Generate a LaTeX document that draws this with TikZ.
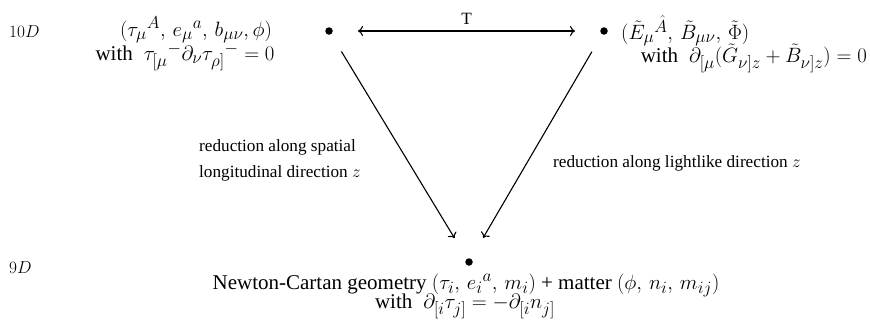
\documentclass[tikz,border=0pt]{standalone}
\usepackage{fontspec}
\setmainfont{Liberation Serif}
\usetikzlibrary{arrows.meta}
\newcommand{\mymath}[1]{{\fontsize{22.8}{25}\selectfont$#1$}}
\begin{document}
\begin{tikzpicture}[x=1pt,y=-1pt,
  every node/.style={font=\fontsize{21}{24}\selectfont, inner sep=0pt},
  dot/.style={circle, fill=black, minimum size=7.5pt, inner sep=0pt},
  dim/.style={font=\fontsize{18}{20}\selectfont},
  conn/.style={line width=1.1pt, -{To[length=5pt,width=10pt]}},
  lbl/.style={font=\fontsize{17.2}{26}\selectfont, align=left}]
\useasboundingbox (0,0) rectangle (870,335);
% dots
\node[dot] (L) at (329,31) {};
\node[dot] (R) at (604,31) {};
\node[dot] (B) at (469,262) {};
% dimension labels
\node[dim, anchor=west] (d10) at (9,32) {$10D$};
\node[dim, anchor=west] (d9) at (9,268) {$9D$};
% left text
\node (lt1) at (196,30) {\mymath{(\tau_\mu{}^A,\, e_\mu{}^a,\, b_{\mu\nu}, \phi)}};
\node (lt2) at (185,57) {with \mymath{\ \tau_{[\mu}{}^{-}\partial_\nu\tau_{\rho]}{}^{-}=0}};
% right text
\node[anchor=west] (rt1) at (621,31) {\mymath{(\tilde E_\mu{}^{\hat A},\, \tilde B_{\mu\nu},\, \tilde\Phi)}};
\node[anchor=east] (rt2) at (867,58) {with \mymath{\ \partial_{[\mu}(\tilde G_{\nu]z}+\tilde B_{\nu]z})=0}};
% bottom text
\node (bt1) at (466,285) {Newton-Cartan geometry \mymath{(\tau_i,\, e_i{}^a,\, m_i)} + matter \mymath{(\phi,\, n_i,\, m_{ij})}};
\node (bt2) at (465,306) {with \mymath{\ \partial_{[i}\tau_{j]}=-\partial_{[i}n_{j]}}};
% connectors
\draw[conn, {To[length=5pt,width=10pt]}-{To[length=5pt,width=10pt]}, shorten <=25pt, shorten >=25pt] (L) -- node[lbl, above=6pt] (T) {T} (R);
\draw[conn, shorten <=20pt, shorten >=24pt] (L) -- (B);
\draw[conn, shorten <=20pt, shorten >=24pt] (R) -- (B);
% reduction labels
\node[lbl, anchor=west] (rl) at (199,160) {reduction along spatial\\longitudinal direction $z$};
\node[lbl, anchor=west] (rr) at (553,163) {reduction along lightlike direction $z$};
\end{tikzpicture}
\end{document}
